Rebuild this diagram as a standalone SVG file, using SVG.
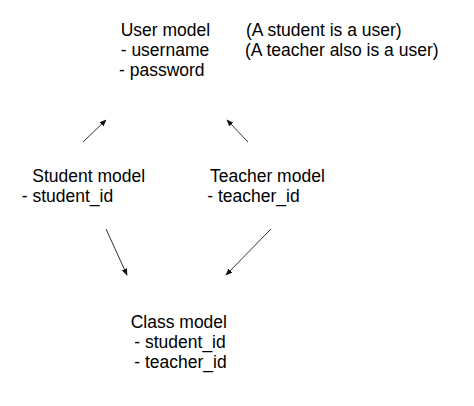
<svg xmlns="http://www.w3.org/2000/svg" width="474" height="406" viewBox="0 0 474 406">
<style>
text { font-family: "Liberation Sans", Arial, Helvetica, sans-serif; font-size: 17.5px; fill: #000; }
.conn { stroke: #333; stroke-width: 1; fill: none; marker-end: url(#ah); }
</style>
<defs>
<marker id="ah" viewBox="0 0 10 10" refX="9" refY="5" markerWidth="7" markerHeight="7" markerUnits="userSpaceOnUse" orient="auto">
<path d="M0,1 L10,5 L0,9 z" fill="#111"/>
</marker>
</defs>
<rect width="474" height="406" fill="#fff"/>
<g id="user-model">
<text x="120.7" y="36">User model</text>
<text x="120.7" y="56">- username</text>
<text x="119" y="76">- password</text>
</g>
<g id="user-notes">
<text x="246" y="36">(A student is a user)</text>
<text x="245" y="56">(A teacher also is a user)</text>
</g>
<g id="student-model">
<text x="32.3" y="181.7">Student model</text>
<text x="21.7" y="201.7">- student_id</text>
</g>
<g id="teacher-model">
<text x="210" y="181.7">Teacher model</text>
<text x="207.3" y="201.7">- teacher_id</text>
</g>
<g id="class-model">
<text x="130.7" y="328">Class model</text>
<text x="134.3" y="348">- student_id</text>
<text x="134.3" y="368">- teacher_id</text>
</g>
<g id="connectors">
<line class="conn" x1="83" y1="142" x2="106" y2="120"/>
<line class="conn" x1="248" y1="142" x2="227" y2="120"/>
<line class="conn" x1="106" y1="229" x2="127" y2="275"/>
<line class="conn" x1="271" y1="229" x2="226" y2="275"/>
</g>
</svg>
